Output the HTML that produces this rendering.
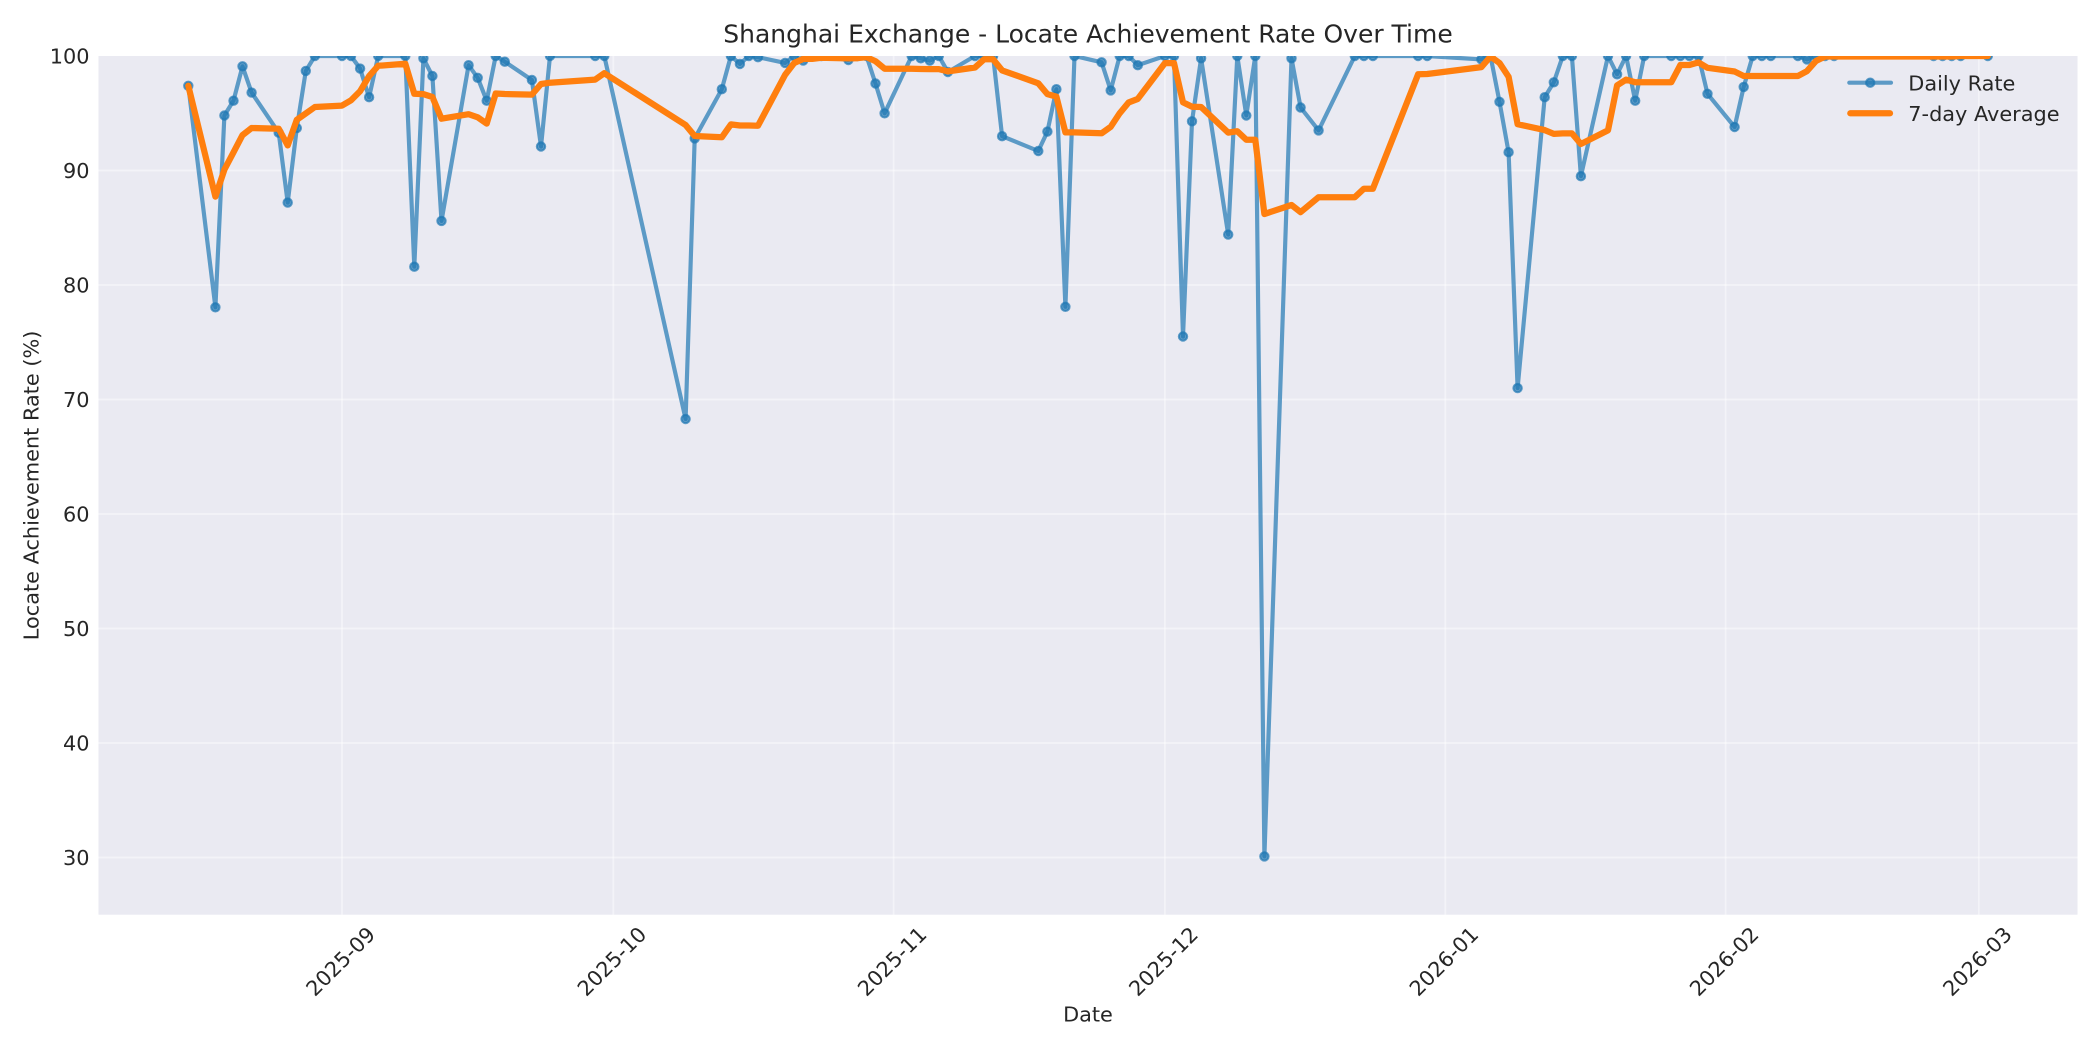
<!DOCTYPE html>
<html>
<head>
<meta charset="utf-8">
<style>
html,body{margin:0;padding:0;background:#ffffff;}
svg{display:block;}
text{font-family:"DejaVu Sans","Liberation Sans",sans-serif;fill:#262626;}
</style>
</head>
<body>
<svg width="2100" height="1050" viewBox="0 0 2100 1050" xmlns="http://www.w3.org/2000/svg">
<defs>
<clipPath id="ax"><rect x="98.5" y="56" width="1979" height="858.7"/></clipPath>
</defs>
<rect x="0" y="0" width="2100" height="1050" fill="#ffffff"/>
<rect x="98.5" y="56" width="1979" height="858.7" fill="#EAEAF2"/>
<g stroke="#ffffff" stroke-opacity="0.45" stroke-width="1.8">
<line x1="98.5" x2="2077.5" y1="170.5" y2="170.5"/>
<line x1="98.5" x2="2077.5" y1="285" y2="285"/>
<line x1="98.5" x2="2077.5" y1="399.5" y2="399.5"/>
<line x1="98.5" x2="2077.5" y1="514" y2="514"/>
<line x1="98.5" x2="2077.5" y1="628.5" y2="628.5"/>
<line x1="98.5" x2="2077.5" y1="743" y2="743"/>
<line x1="98.5" x2="2077.5" y1="857.5" y2="857.5"/>
<line x1="342" x2="342" y1="56" y2="914.7"/>
<line x1="613.3" x2="613.3" y1="56" y2="914.7"/>
<line x1="893.6" x2="893.6" y1="56" y2="914.7"/>
<line x1="1164.9" x2="1164.9" y1="56" y2="914.7"/>
<line x1="1445.3" x2="1445.3" y1="56" y2="914.7"/>
<line x1="1725.6" x2="1725.6" y1="56" y2="914.7"/>
<line x1="1978.8" x2="1978.8" y1="56" y2="914.7"/>
</g>
<g clip-path="url(#ax)">
<polyline fill="none" stroke="#1f77b4" stroke-opacity="0.7" stroke-width="4.17" stroke-linejoin="round" stroke-linecap="round" points="188.3,85.8 215.4,307.3 224.4,115.5 233.5,100.7 242.5,66.3 251.6,92.6 278.7,132.7 287.7,202.6 296.8,128.1 305.8,70.9 314.9,56 342,56 351,56 360.1,68.6 369.1,97.2 378.2,56 405.3,56 414.3,266.7 423.4,58.3 432.4,76 441.5,220.9 468.6,65.2 477.7,77.8 486.7,100.7 495.7,56 504.8,61.7 531.9,80 541,146.5 550,56 595.2,56 604.3,56 685.6,419 694.7,138.4 721.8,89.2 730.9,56 739.9,64 748.9,56 758,57.2 785.1,62.9 794.2,56 803.2,60.6 812.2,56 821.3,56 848.4,60 857.5,56 866.5,56 875.5,83.5 884.6,113.3 911.7,56 920.8,58.3 929.8,60.6 938.8,56 947.9,72 975,56 984.1,56 993.1,56 1002.1,136.2 1038.3,151 1047.4,131.6 1056.4,89.2 1065.4,306.8 1074.5,56 1101.6,62.3 1110.7,90.4 1119.7,56 1128.7,56 1137.8,65.2 1164.9,56 1174,56 1183,336.5 1192,121.3 1201.1,58.3 1228.2,234.6 1237.3,56 1246.3,115.5 1255.3,56 1264.4,856.4 1291.5,58.3 1300.6,107.5 1318.6,130.4 1354.8,56 1363.9,56 1372.9,56 1418.1,56 1427.2,56 1481.4,59.4 1490.5,56 1499.5,101.8 1508.6,152.2 1517.6,388.1 1544.7,97.2 1553.8,82.3 1562.8,56 1571.9,56 1580.9,176.2 1608,56 1617.1,74.3 1626.1,56 1635.2,100.7 1644.2,56 1671.3,56 1680.4,56 1689.4,56 1698.5,56 1707.5,93.8 1734.6,127 1743.7,86.9 1752.7,56 1761.8,56 1770.8,56 1797.9,56 1807,59.4 1816,56 1825.1,56 1834.1,56 1933.6,56 1942.6,56 1951.7,56 1960.7,56 1987.8,56"/>
<g fill="#1f77b4" fill-opacity="0.7" stroke="#1f77b4" stroke-opacity="0.7" stroke-width="2.08">
<circle cx="188.3" cy="85.8" r="4.17"/>
<circle cx="215.4" cy="307.3" r="4.17"/>
<circle cx="224.4" cy="115.5" r="4.17"/>
<circle cx="233.5" cy="100.7" r="4.17"/>
<circle cx="242.5" cy="66.3" r="4.17"/>
<circle cx="251.6" cy="92.6" r="4.17"/>
<circle cx="278.7" cy="132.7" r="4.17"/>
<circle cx="287.7" cy="202.6" r="4.17"/>
<circle cx="296.8" cy="128.1" r="4.17"/>
<circle cx="305.8" cy="70.9" r="4.17"/>
<circle cx="314.9" cy="56" r="4.17"/>
<circle cx="342" cy="56" r="4.17"/>
<circle cx="351" cy="56" r="4.17"/>
<circle cx="360.1" cy="68.6" r="4.17"/>
<circle cx="369.1" cy="97.2" r="4.17"/>
<circle cx="378.2" cy="56" r="4.17"/>
<circle cx="405.3" cy="56" r="4.17"/>
<circle cx="414.3" cy="266.7" r="4.17"/>
<circle cx="423.4" cy="58.3" r="4.17"/>
<circle cx="432.4" cy="76" r="4.17"/>
<circle cx="441.5" cy="220.9" r="4.17"/>
<circle cx="468.6" cy="65.2" r="4.17"/>
<circle cx="477.7" cy="77.8" r="4.17"/>
<circle cx="486.7" cy="100.7" r="4.17"/>
<circle cx="495.7" cy="56" r="4.17"/>
<circle cx="504.8" cy="61.7" r="4.17"/>
<circle cx="531.9" cy="80" r="4.17"/>
<circle cx="541" cy="146.5" r="4.17"/>
<circle cx="550" cy="56" r="4.17"/>
<circle cx="595.2" cy="56" r="4.17"/>
<circle cx="604.3" cy="56" r="4.17"/>
<circle cx="685.6" cy="419" r="4.17"/>
<circle cx="694.7" cy="138.4" r="4.17"/>
<circle cx="721.8" cy="89.2" r="4.17"/>
<circle cx="730.9" cy="56" r="4.17"/>
<circle cx="739.9" cy="64" r="4.17"/>
<circle cx="748.9" cy="56" r="4.17"/>
<circle cx="758" cy="57.2" r="4.17"/>
<circle cx="785.1" cy="62.9" r="4.17"/>
<circle cx="794.2" cy="56" r="4.17"/>
<circle cx="803.2" cy="60.6" r="4.17"/>
<circle cx="812.2" cy="56" r="4.17"/>
<circle cx="821.3" cy="56" r="4.17"/>
<circle cx="848.4" cy="60" r="4.17"/>
<circle cx="857.5" cy="56" r="4.17"/>
<circle cx="866.5" cy="56" r="4.17"/>
<circle cx="875.5" cy="83.5" r="4.17"/>
<circle cx="884.6" cy="113.3" r="4.17"/>
<circle cx="911.7" cy="56" r="4.17"/>
<circle cx="920.8" cy="58.3" r="4.17"/>
<circle cx="929.8" cy="60.6" r="4.17"/>
<circle cx="938.8" cy="56" r="4.17"/>
<circle cx="947.9" cy="72" r="4.17"/>
<circle cx="975" cy="56" r="4.17"/>
<circle cx="984.1" cy="56" r="4.17"/>
<circle cx="993.1" cy="56" r="4.17"/>
<circle cx="1002.1" cy="136.2" r="4.17"/>
<circle cx="1038.3" cy="151" r="4.17"/>
<circle cx="1047.4" cy="131.6" r="4.17"/>
<circle cx="1056.4" cy="89.2" r="4.17"/>
<circle cx="1065.4" cy="306.8" r="4.17"/>
<circle cx="1074.5" cy="56" r="4.17"/>
<circle cx="1101.6" cy="62.3" r="4.17"/>
<circle cx="1110.7" cy="90.4" r="4.17"/>
<circle cx="1119.7" cy="56" r="4.17"/>
<circle cx="1128.7" cy="56" r="4.17"/>
<circle cx="1137.8" cy="65.2" r="4.17"/>
<circle cx="1164.9" cy="56" r="4.17"/>
<circle cx="1174" cy="56" r="4.17"/>
<circle cx="1183" cy="336.5" r="4.17"/>
<circle cx="1192" cy="121.3" r="4.17"/>
<circle cx="1201.1" cy="58.3" r="4.17"/>
<circle cx="1228.2" cy="234.6" r="4.17"/>
<circle cx="1237.3" cy="56" r="4.17"/>
<circle cx="1246.3" cy="115.5" r="4.17"/>
<circle cx="1255.3" cy="56" r="4.17"/>
<circle cx="1264.4" cy="856.4" r="4.17"/>
<circle cx="1291.5" cy="58.3" r="4.17"/>
<circle cx="1300.6" cy="107.5" r="4.17"/>
<circle cx="1318.6" cy="130.4" r="4.17"/>
<circle cx="1354.8" cy="56" r="4.17"/>
<circle cx="1363.9" cy="56" r="4.17"/>
<circle cx="1372.9" cy="56" r="4.17"/>
<circle cx="1418.1" cy="56" r="4.17"/>
<circle cx="1427.2" cy="56" r="4.17"/>
<circle cx="1481.4" cy="59.4" r="4.17"/>
<circle cx="1490.5" cy="56" r="4.17"/>
<circle cx="1499.5" cy="101.8" r="4.17"/>
<circle cx="1508.6" cy="152.2" r="4.17"/>
<circle cx="1517.6" cy="388.1" r="4.17"/>
<circle cx="1544.7" cy="97.2" r="4.17"/>
<circle cx="1553.8" cy="82.3" r="4.17"/>
<circle cx="1562.8" cy="56" r="4.17"/>
<circle cx="1571.9" cy="56" r="4.17"/>
<circle cx="1580.9" cy="176.2" r="4.17"/>
<circle cx="1608" cy="56" r="4.17"/>
<circle cx="1617.1" cy="74.3" r="4.17"/>
<circle cx="1626.1" cy="56" r="4.17"/>
<circle cx="1635.2" cy="100.7" r="4.17"/>
<circle cx="1644.2" cy="56" r="4.17"/>
<circle cx="1671.3" cy="56" r="4.17"/>
<circle cx="1680.4" cy="56" r="4.17"/>
<circle cx="1689.4" cy="56" r="4.17"/>
<circle cx="1698.5" cy="56" r="4.17"/>
<circle cx="1707.5" cy="93.8" r="4.17"/>
<circle cx="1734.6" cy="127" r="4.17"/>
<circle cx="1743.7" cy="86.9" r="4.17"/>
<circle cx="1752.7" cy="56" r="4.17"/>
<circle cx="1761.8" cy="56" r="4.17"/>
<circle cx="1770.8" cy="56" r="4.17"/>
<circle cx="1797.9" cy="56" r="4.17"/>
<circle cx="1807" cy="59.4" r="4.17"/>
<circle cx="1816" cy="56" r="4.17"/>
<circle cx="1825.1" cy="56" r="4.17"/>
<circle cx="1834.1" cy="56" r="4.17"/>
<circle cx="1933.6" cy="56" r="4.17"/>
<circle cx="1942.6" cy="56" r="4.17"/>
<circle cx="1951.7" cy="56" r="4.17"/>
<circle cx="1960.7" cy="56" r="4.17"/>
<circle cx="1987.8" cy="56" r="4.17"/>
</g>
<polyline fill="none" stroke="#ff7f0e" stroke-width="6.25" stroke-linejoin="round" stroke-linecap="round" points="188.3,85.8 215.4,196.6 224.4,169.6 233.5,152.3 242.5,135.1 251.6,128 278.7,128.7 287.7,145.4 296.8,119.8 305.8,113.4 314.9,107 342,105.6 351,100.3 360.1,91.2 369.1,76.1 378.2,65.8 405.3,63.7 414.3,93.8 423.4,94.1 432.4,97 441.5,118.7 468.6,114.2 477.7,117.3 486.7,123.6 495.7,93.5 504.8,94 531.9,94.6 541,84 550,82.7 595.2,79.6 604.3,73.2 685.6,125 694.7,136 721.8,137.3 730.9,124.4 739.9,125.5 748.9,125.5 758,125.7 785.1,74.8 794.2,63 803.2,58.9 812.2,58.9 821.3,57.8 848.4,58.4 857.5,58.2 866.5,57.2 875.5,61.2 884.6,68.7 911.7,68.7 920.8,69 929.8,69.1 938.8,69.1 947.9,71.4 975,67.5 984.1,59.3 993.1,59.3 1002.1,70.4 1038.3,83.3 1047.4,94.1 1056.4,96.6 1065.4,132.4 1074.5,132.4 1101.6,133.3 1110.7,126.8 1119.7,113.2 1128.7,102.4 1137.8,98.9 1164.9,63.1 1174,63.1 1183,102.3 1192,106.7 1201.1,107 1228.2,132.6 1237.3,131.2 1246.3,139.8 1255.3,139.8 1264.4,214 1291.5,205 1300.6,212.1 1318.6,197.2 1354.8,197.2 1363.9,188.7 1372.9,188.7 1418.1,74.3 1427.2,74 1481.4,67.1 1490.5,56.5 1499.5,63 1508.6,76.8 1517.6,124.2 1544.7,130.1 1553.8,133.9 1562.8,133.4 1571.9,133.4 1580.9,144 1608,130.3 1617.1,85.4 1626.1,79.6 1635.2,82.2 1644.2,82.2 1671.3,82.2 1680.4,65 1689.4,65 1698.5,62.4 1707.5,67.8 1734.6,71.5 1743.7,76 1752.7,76 1761.8,76 1770.8,76 1797.9,76 1807,71.1 1816,60.9 1825.1,56.5 1834.1,56.5 1933.6,56.5 1942.6,56.5 1951.7,56.5 1960.7,56 1987.8,56"/>
</g>
<line x1="1849.3" y1="82.7" x2="1891" y2="82.7" stroke="#1f77b4" stroke-opacity="0.7" stroke-width="4.17" stroke-linecap="round"/>
<circle cx="1870.2" cy="82.7" r="4.17" fill="#1f77b4" fill-opacity="0.7" stroke="#1f77b4" stroke-opacity="0.7" stroke-width="2.08"/>
<text x="1908.3" y="90.7" font-size="20.83">Daily Rate</text>
<line x1="1850.3" y1="113.3" x2="1890" y2="113.3" stroke="#ff7f0e" stroke-width="6.25" stroke-linecap="round"/>
<text x="1908.3" y="121" font-size="20.83">7-day Average</text>
<text x="1088" y="42.7" font-size="25" text-anchor="middle">Shanghai Exchange - Locate Achievement Rate Over Time</text>
<g font-size="20.83" text-anchor="end">
<text x="89.5" y="63.6">100</text>
<text x="89.5" y="178.1">90</text>
<text x="89.5" y="292.6">80</text>
<text x="89.5" y="407.1">70</text>
<text x="89.5" y="521.6">60</text>
<text x="89.5" y="636.1">50</text>
<text x="89.5" y="750.6">40</text>
<text x="89.5" y="865.1">30</text>
</g>
<g font-size="20.83" text-anchor="middle">
<text transform="translate(340.3,961.2) rotate(-45)" x="0" y="7.6">2025-09</text>
<text transform="translate(611.6,961.2) rotate(-45)" x="0" y="7.6">2025-10</text>
<text transform="translate(891.9,961.2) rotate(-45)" x="0" y="7.6">2025-11</text>
<text transform="translate(1163.2,961.2) rotate(-45)" x="0" y="7.6">2025-12</text>
<text transform="translate(1443.6,961.2) rotate(-45)" x="0" y="7.6">2026-01</text>
<text transform="translate(1723.9,961.2) rotate(-45)" x="0" y="7.6">2026-02</text>
<text transform="translate(1977.1,961.2) rotate(-45)" x="0" y="7.6">2026-03</text>
</g>
<text x="1088" y="1021.5" font-size="20.83" text-anchor="middle">Date</text>
<text transform="translate(38.5,485.4) rotate(-90)" x="0" y="0" font-size="20.83" text-anchor="middle">Locate Achievement Rate (%)</text>
</svg>
</body>
</html>
